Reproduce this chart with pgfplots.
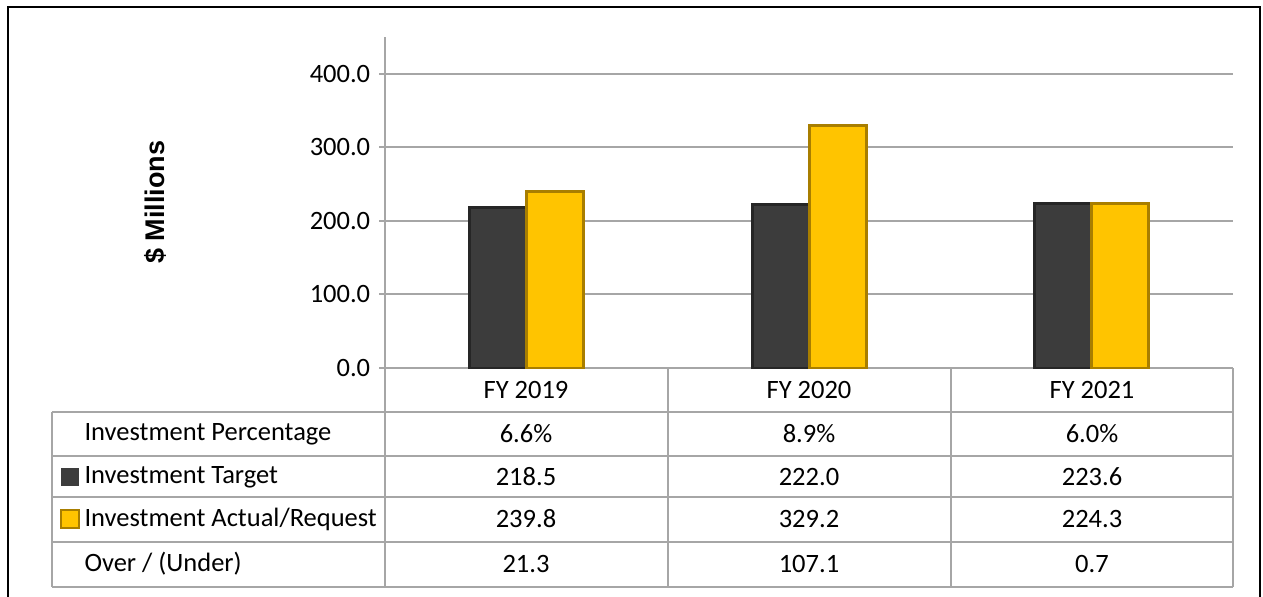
\documentclass[border=0pt]{standalone}
\usepackage{fontspec}
\setmainfont{Carlito}
\newfontfamily\arialfont{Liberation Sans}
\usepackage{pgfplots}
\pgfplotsset{compat=1.18}
\definecolor{tgt}{HTML}{3C3C3C}
\definecolor{tgtedge}{HTML}{262626}
\definecolor{act}{HTML}{FFC400}
\definecolor{actedge}{HTML}{A87E00}
\definecolor{gridgray}{HTML}{A6A6A6}
\newcommand{\tabfont}{\fontsize{10.6pt}{12.5pt}\selectfont}

\begin{document}
\begin{tikzpicture}[x=0.4pt, y=-0.4pt]
\begin{axis}[
    at={(154pt,-147.2pt)}, anchor=south west,
    scale only axis,
    width=339.2pt, height=132.4pt,
    xmin=-0.5, xmax=2.5,
    ymin=0, ymax=450,
    ybar=0pt, bar width=22.8pt,
    xtick=\empty,
    ytick={0,100,200,300,400},
    axis lines*=left,
    axis line style={draw=gridgray, line width=0.8pt},
    ymajorgrids,
    grid style={draw=gridgray, line width=0.8pt},
    major tick length=2.4pt,
    tick align=outside,
    tick style={draw=gridgray, line width=0.8pt},
    yticklabel style={font=\tabfont, /pgf/number format/.cd, fixed, fixed zerofill, precision=1, assume math mode=true},
]
\addplot[fill=tgt, draw=tgtedge, line width=1.2pt] coordinates {(0,218.5) (1,222.0) (2,223.6)};
\addplot[fill=act, draw=actedge, line width=1.2pt] coordinates {(0,239.8) (1,329.2) (2,224.3)};
\end{axis}

% data table below the axis
\foreach \yy in {412,456,497,542,587} \draw[gridgray, line width=0.8pt] (52,\yy) -- (1233,\yy);
\draw[gridgray, line width=0.8pt] (52,412) -- (52,587);
\foreach \xx in {385,668,951,1233} \draw[gridgray, line width=0.8pt] (\xx,368) -- (\xx,587);

\tabfont
\node at (526,390) {FY 2019};
\node at (809,390) {FY 2020};
\node at (1092,390) {FY 2021};

\node[anchor=west, inner sep=0pt] at (84,434) {Investment Percentage};
\node[anchor=west, inner sep=0pt] at (84,477) {Investment Target};
\node[anchor=west, inner sep=0pt] at (84,519) {Investment Actual/Request};
\node[anchor=west, inner sep=0pt] at (84,564) {Over / (Under)};
\fill[tgt] (61,468) rectangle (79,486);
\fill[act] (61,510) rectangle (79,528);
\draw[actedge, line width=0.5pt] (61,510) rectangle (79,528);

\node at (526,434) {6.6\%};
\node at (809,434) {8.9\%};
\node at (1092,434) {6.0\%};
\node at (526,477) {218.5};
\node at (809,477) {222.0};
\node at (1092,477) {223.6};
\node at (526,519) {239.8};
\node at (809,519) {329.2};
\node at (1092,519) {224.3};
\node at (526,564) {21.3};
\node at (809,564) {107.1};
\node at (1092,564) {0.7};

\node[rotate=90, font=\arialfont\bfseries\fontsize{10.8pt}{13pt}\selectfont] at (155,202) {\$ Millions};

\draw[black, line width=1pt] (8,620) -- (8,7) -- (1260,7) -- (1260,620);

\pgfresetboundingbox
\useasboundingbox (0,0) rectangle (1263,596);
\end{tikzpicture}
\end{document}
